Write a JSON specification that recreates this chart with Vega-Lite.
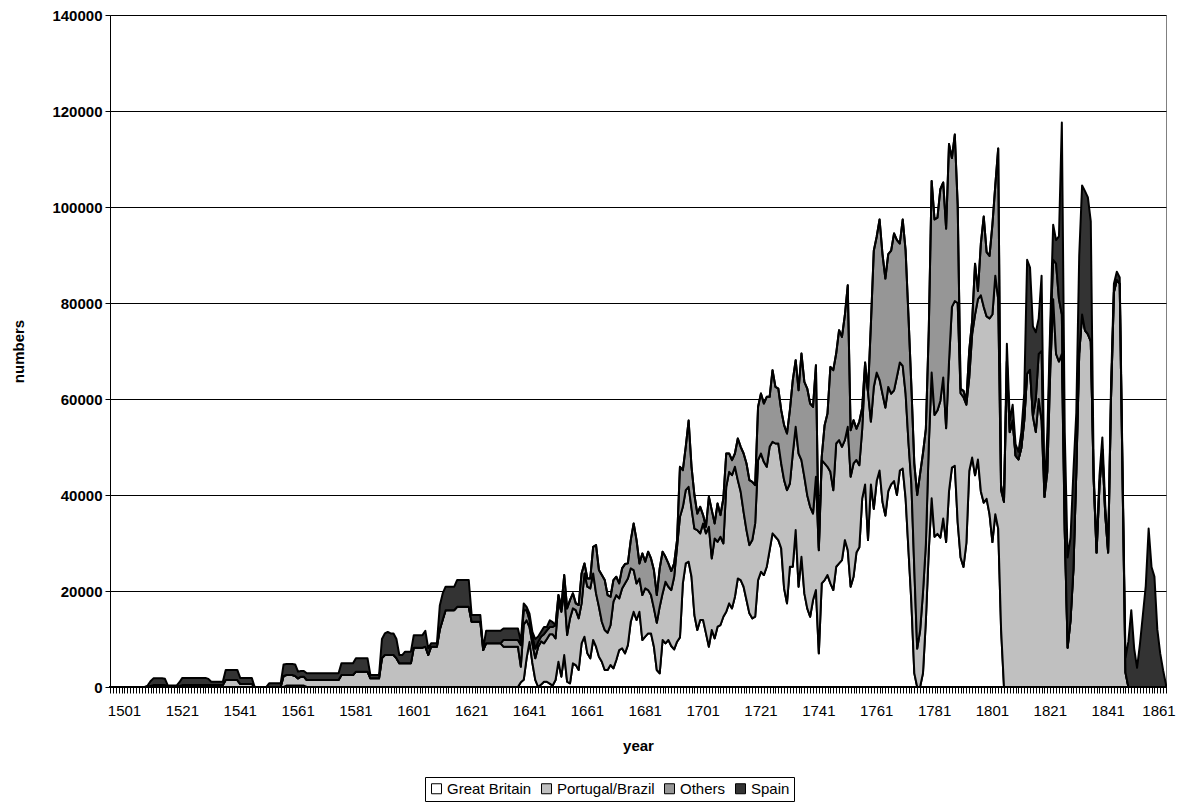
{
"$schema": "https://vega.github.io/schema/vega-lite/v6.json",
"width": 1056, "height": 672,
"autosize": {"type": "none"},
"padding": {"left": 110, "top": 15, "right": 13, "bottom": 119},
"background": "white",
"config": {"view": {"stroke": "#808080", "strokeWidth": 1}, "font": "Liberation Sans"},
"datasets": {"series": [{"key":"GB","name":"Great Britain","rank":1},{"key":"PT","name":"Portugal/Brazil","rank":2},{"key":"OT","name":"Others","rank":3},{"key":"SP","name":"Spain","rank":4}]},
"data": {"values": [
{"year":1501,"GB":0,"PT":0,"OT":0,"SP":0},{"year":1502,"GB":0,"PT":0,"OT":0,"SP":0},{"year":1503,"GB":0,"PT":0,"OT":0,"SP":0},{"year":1504,"GB":0,"PT":0,"OT":0,"SP":0},{"year":1505,"GB":0,"PT":0,"OT":0,"SP":0},{"year":1506,"GB":0,"PT":0,"OT":0,"SP":0},{"year":1507,"GB":0,"PT":0,"OT":0,"SP":0},{"year":1508,"GB":0,"PT":0,"OT":0,"SP":0},{"year":1509,"GB":0,"PT":0,"OT":0,"SP":0},{"year":1510,"GB":0,"PT":0,"OT":0,"SP":0},
{"year":1511,"GB":0,"PT":0,"OT":0,"SP":0},{"year":1512,"GB":0,"PT":0,"OT":0,"SP":0},{"year":1513,"GB":0,"PT":0,"OT":0,"SP":0},{"year":1514,"GB":0,"PT":0,"OT":0,"SP":300},{"year":1515,"GB":0,"PT":200,"OT":0,"SP":1000},{"year":1516,"GB":0,"PT":400,"OT":0,"SP":1400},{"year":1517,"GB":0,"PT":400,"OT":0,"SP":1400},{"year":1518,"GB":0,"PT":400,"OT":0,"SP":1400},{"year":1519,"GB":0,"PT":400,"OT":0,"SP":1400},{"year":1520,"GB":0,"PT":400,"OT":0,"SP":1300},
{"year":1521,"GB":0,"PT":0,"OT":0,"SP":300},{"year":1522,"GB":0,"PT":0,"OT":0,"SP":300},{"year":1523,"GB":0,"PT":0,"OT":0,"SP":300},{"year":1524,"GB":0,"PT":0,"OT":0,"SP":300},{"year":1525,"GB":0,"PT":200,"OT":0,"SP":800},{"year":1526,"GB":0,"PT":400,"OT":0,"SP":1500},{"year":1527,"GB":0,"PT":400,"OT":0,"SP":1500},{"year":1528,"GB":0,"PT":400,"OT":0,"SP":1500},{"year":1529,"GB":0,"PT":400,"OT":0,"SP":1500},{"year":1530,"GB":0,"PT":400,"OT":0,"SP":1500},
{"year":1531,"GB":0,"PT":400,"OT":0,"SP":1500},{"year":1532,"GB":0,"PT":400,"OT":0,"SP":1500},{"year":1533,"GB":0,"PT":400,"OT":0,"SP":1500},{"year":1534,"GB":0,"PT":400,"OT":0,"SP":1500},{"year":1535,"GB":0,"PT":400,"OT":0,"SP":1300},{"year":1536,"GB":0,"PT":400,"OT":0,"SP":700},{"year":1537,"GB":0,"PT":400,"OT":0,"SP":700},{"year":1538,"GB":0,"PT":400,"OT":0,"SP":700},{"year":1539,"GB":0,"PT":400,"OT":0,"SP":700},{"year":1540,"GB":0,"PT":400,"OT":0,"SP":700},
{"year":1541,"GB":0,"PT":1450,"OT":0,"SP":2100},{"year":1542,"GB":0,"PT":1450,"OT":0,"SP":2100},{"year":1543,"GB":0,"PT":1450,"OT":0,"SP":2100},{"year":1544,"GB":0,"PT":1450,"OT":0,"SP":2100},{"year":1545,"GB":0,"PT":1450,"OT":0,"SP":2100},{"year":1546,"GB":0,"PT":650,"OT":0,"SP":1250},{"year":1547,"GB":0,"PT":650,"OT":0,"SP":1250},{"year":1548,"GB":0,"PT":650,"OT":0,"SP":1250},{"year":1549,"GB":0,"PT":650,"OT":0,"SP":1250},{"year":1550,"GB":0,"PT":650,"OT":0,"SP":1250},
{"year":1551,"GB":0,"PT":0,"OT":0,"SP":0},{"year":1552,"GB":0,"PT":0,"OT":0,"SP":0},{"year":1553,"GB":0,"PT":0,"OT":0,"SP":0},{"year":1554,"GB":0,"PT":0,"OT":0,"SP":0},{"year":1555,"GB":0,"PT":0,"OT":0,"SP":0},{"year":1556,"GB":0,"PT":0,"OT":0,"SP":760},{"year":1557,"GB":0,"PT":0,"OT":0,"SP":760},{"year":1558,"GB":0,"PT":0,"OT":0,"SP":760},{"year":1559,"GB":0,"PT":0,"OT":0,"SP":760},{"year":1560,"GB":0,"PT":0,"OT":0,"SP":760},
{"year":1561,"GB":0,"PT":2300,"OT":0,"SP":2400},{"year":1562,"GB":300,"PT":2200,"OT":0,"SP":2300},{"year":1563,"GB":300,"PT":2200,"OT":0,"SP":2300},{"year":1564,"GB":300,"PT":2200,"OT":0,"SP":2300},{"year":1565,"GB":300,"PT":2000,"OT":0,"SP":2400},{"year":1566,"GB":300,"PT":1500,"OT":0,"SP":1400},{"year":1567,"GB":300,"PT":1850,"OT":0,"SP":1200},{"year":1568,"GB":300,"PT":1850,"OT":0,"SP":1200},{"year":1569,"GB":0,"PT":1460,"OT":0,"SP":1400},{"year":1570,"GB":0,"PT":1460,"OT":0,"SP":1400},
{"year":1571,"GB":0,"PT":1460,"OT":0,"SP":1400},{"year":1572,"GB":0,"PT":1460,"OT":0,"SP":1400},{"year":1573,"GB":0,"PT":1460,"OT":0,"SP":1400},{"year":1574,"GB":0,"PT":1460,"OT":0,"SP":1400},{"year":1575,"GB":0,"PT":1460,"OT":0,"SP":1400},{"year":1576,"GB":0,"PT":1460,"OT":0,"SP":1400},{"year":1577,"GB":0,"PT":1460,"OT":0,"SP":1400},{"year":1578,"GB":0,"PT":1460,"OT":0,"SP":1400},{"year":1579,"GB":0,"PT":1460,"OT":0,"SP":1400},{"year":1580,"GB":0,"PT":1460,"OT":0,"SP":1400},
{"year":1581,"GB":0,"PT":2500,"OT":0,"SP":2430},{"year":1582,"GB":0,"PT":2500,"OT":0,"SP":2430},{"year":1583,"GB":0,"PT":2500,"OT":0,"SP":2430},{"year":1584,"GB":0,"PT":2500,"OT":0,"SP":2430},{"year":1585,"GB":0,"PT":2500,"OT":0,"SP":2430},{"year":1586,"GB":0,"PT":3200,"OT":0,"SP":2800},{"year":1587,"GB":0,"PT":3200,"OT":0,"SP":2800},{"year":1588,"GB":0,"PT":3200,"OT":0,"SP":2800},{"year":1589,"GB":0,"PT":3200,"OT":0,"SP":2800},{"year":1590,"GB":0,"PT":3200,"OT":0,"SP":2800},
{"year":1591,"GB":0,"PT":1800,"OT":0,"SP":700},{"year":1592,"GB":0,"PT":1800,"OT":0,"SP":700},{"year":1593,"GB":0,"PT":1800,"OT":0,"SP":700},{"year":1594,"GB":0,"PT":1800,"OT":0,"SP":700},{"year":1595,"GB":0,"PT":6000,"OT":0,"SP":4000},{"year":1596,"GB":0,"PT":6660,"OT":0,"SP":4500},{"year":1597,"GB":0,"PT":6660,"OT":0,"SP":4800},{"year":1598,"GB":0,"PT":6660,"OT":0,"SP":4500},{"year":1599,"GB":0,"PT":6660,"OT":0,"SP":4500},{"year":1600,"GB":0,"PT":6000,"OT":0,"SP":4000},
{"year":1601,"GB":0,"PT":4930,"OT":0,"SP":1730},{"year":1602,"GB":0,"PT":4930,"OT":0,"SP":1730},{"year":1603,"GB":0,"PT":4930,"OT":0,"SP":2430},{"year":1604,"GB":0,"PT":4930,"OT":0,"SP":2430},{"year":1605,"GB":0,"PT":4930,"OT":0,"SP":2430},{"year":1606,"GB":0,"PT":8200,"OT":0,"SP":2600},{"year":1607,"GB":0,"PT":8200,"OT":0,"SP":2600},{"year":1608,"GB":0,"PT":8200,"OT":0,"SP":2600},{"year":1609,"GB":0,"PT":8200,"OT":0,"SP":2600},{"year":1610,"GB":0,"PT":8400,"OT":0,"SP":3300},
{"year":1611,"GB":0,"PT":6660,"OT":0,"SP":1400},{"year":1612,"GB":0,"PT":8400,"OT":0,"SP":700},{"year":1613,"GB":0,"PT":8400,"OT":0,"SP":700},{"year":1614,"GB":0,"PT":8400,"OT":0,"SP":700},{"year":1615,"GB":0,"PT":12000,"OT":0,"SP":5000},{"year":1616,"GB":0,"PT":14000,"OT":0,"SP":5500},{"year":1617,"GB":0,"PT":16000,"OT":0,"SP":4900},{"year":1618,"GB":0,"PT":16000,"OT":0,"SP":4900},{"year":1619,"GB":0,"PT":16000,"OT":0,"SP":4900},{"year":1620,"GB":0,"PT":16000,"OT":0,"SP":4900},
{"year":1621,"GB":0,"PT":16700,"OT":0,"SP":5600},{"year":1622,"GB":0,"PT":16700,"OT":0,"SP":5600},{"year":1623,"GB":0,"PT":16700,"OT":0,"SP":5600},{"year":1624,"GB":0,"PT":16700,"OT":0,"SP":5600},{"year":1625,"GB":0,"PT":16700,"OT":0,"SP":5600},{"year":1626,"GB":0,"PT":13600,"OT":0,"SP":1400},{"year":1627,"GB":0,"PT":13600,"OT":0,"SP":1400},{"year":1628,"GB":0,"PT":13600,"OT":0,"SP":1400},{"year":1629,"GB":0,"PT":13600,"OT":0,"SP":1400},{"year":1630,"GB":0,"PT":7700,"OT":0,"SP":350},
{"year":1631,"GB":0,"PT":9100,"OT":0,"SP":2600},{"year":1632,"GB":0,"PT":9100,"OT":0,"SP":2600},{"year":1633,"GB":0,"PT":9100,"OT":0,"SP":2600},{"year":1634,"GB":0,"PT":9100,"OT":0,"SP":2600},{"year":1635,"GB":0,"PT":9100,"OT":0,"SP":2600},{"year":1636,"GB":0,"PT":9100,"OT":0,"SP":2600},{"year":1637,"GB":0,"PT":8400,"OT":1400,"SP":2400},{"year":1638,"GB":0,"PT":8400,"OT":1400,"SP":2400},{"year":1639,"GB":0,"PT":8400,"OT":1400,"SP":2400},{"year":1640,"GB":0,"PT":8400,"OT":1400,"SP":2400},
{"year":1641,"GB":0,"PT":8400,"OT":1400,"SP":2400},{"year":1642,"GB":0,"PT":8400,"OT":1400,"SP":2400},{"year":1643,"GB":1000,"PT":3230,"OT":4500,"SP":700},{"year":1644,"GB":1500,"PT":11500,"OT":3000,"SP":1400},{"year":1645,"GB":6000,"PT":7900,"OT":2100,"SP":700},{"year":1646,"GB":9400,"PT":3100,"OT":1500,"SP":1300},{"year":1647,"GB":5000,"PT":4000,"OT":1500,"SP":1000},{"year":1648,"GB":1500,"PT":4500,"OT":2000,"SP":2000},{"year":1649,"GB":0,"PT":8400,"OT":1000,"SP":1100},{"year":1650,"GB":500,"PT":9000,"OT":1000,"SP":1000},
{"year":1651,"GB":1100,"PT":8000,"OT":1900,"SP":1500},{"year":1652,"GB":1100,"PT":8900,"OT":1800,"SP":700},{"year":1653,"GB":700,"PT":10300,"OT":1500,"SP":1400},{"year":1654,"GB":300,"PT":10700,"OT":1500,"SP":1000},{"year":1655,"GB":1460,"PT":8670,"OT":2770,"SP":0},{"year":1656,"GB":5270,"PT":12500,"OT":1380,"SP":0},{"year":1657,"GB":2150,"PT":13530,"OT":1050,"SP":0},{"year":1658,"GB":6660,"PT":13190,"OT":3470,"SP":0},{"year":1659,"GB":1110,"PT":9720,"OT":5550,"SP":0},{"year":1660,"GB":760,"PT":13540,"OT":3810,"SP":0},
{"year":1661,"GB":4930,"PT":11450,"OT":3120,"SP":0},{"year":1662,"GB":4580,"PT":11450,"OT":1390,"SP":0},{"year":1663,"GB":3540,"PT":10760,"OT":2770,"SP":0},{"year":1664,"GB":9100,"PT":8320,"OT":6240,"SP":0},{"year":1665,"GB":10480,"PT":13180,"OT":2090,"SP":0},{"year":1666,"GB":7010,"PT":13880,"OT":1730,"SP":0},{"year":1667,"GB":5970,"PT":14570,"OT":2080,"SP":0},{"year":1668,"GB":9790,"PT":13870,"OT":5540,"SP":0},{"year":1669,"GB":8400,"PT":11100,"OT":10060,"SP":0},{"year":1670,"GB":6320,"PT":10410,"OT":7630,"SP":0},
{"year":1671,"GB":5270,"PT":8330,"OT":9720,"SP":0},{"year":1672,"GB":3540,"PT":8330,"OT":10410,"SP":0},{"year":1673,"GB":3540,"PT":7770,"OT":7840,"SP":0},{"year":1674,"GB":4580,"PT":8330,"OT":5890,"SP":0},{"year":1675,"GB":3890,"PT":13880,"OT":4510,"SP":0},{"year":1676,"GB":5620,"PT":13530,"OT":3820,"SP":0},{"year":1677,"GB":7700,"PT":10760,"OT":3120,"SP":0},{"year":1678,"GB":8050,"PT":12490,"OT":4170,"SP":0},{"year":1679,"GB":7010,"PT":14570,"OT":4030,"SP":0},{"year":1680,"GB":8740,"PT":13880,"OT":3130,"SP":0},
{"year":1681,"GB":13600,"PT":11110,"OT":5890,"SP":0},{"year":1682,"GB":15680,"PT":8680,"OT":9720,"SP":0},{"year":1683,"GB":13950,"PT":7630,"OT":9020,"SP":0},{"year":1684,"GB":15680,"PT":6940,"OT":3130,"SP":0},{"year":1685,"GB":9790,"PT":9360,"OT":8680,"SP":0},{"year":1686,"GB":10480,"PT":10060,"OT":5550,"SP":0},{"year":1687,"GB":11170,"PT":9020,"OT":7990,"SP":0},{"year":1688,"GB":11170,"PT":7980,"OT":7640,"SP":0},{"year":1689,"GB":8400,"PT":7980,"OT":7980,"SP":0},{"year":1690,"GB":3540,"PT":9850,"OT":5760,"SP":0},
{"year":1691,"GB":2850,"PT":13880,"OT":7980,"SP":0},{"year":1692,"GB":9790,"PT":9710,"OT":8680,"SP":0},{"year":1693,"GB":9100,"PT":12830,"OT":5200,"SP":0},{"year":1694,"GB":9790,"PT":11100,"OT":4860,"SP":0},{"year":1695,"GB":8540,"PT":11650,"OT":3960,"SP":0},{"year":1696,"GB":7840,"PT":15130,"OT":2780,"SP":0},{"year":1697,"GB":9440,"PT":19760,"OT":1400,"SP":0},{"year":1698,"GB":10340,"PT":25120,"OT":10410,"SP":0},{"year":1699,"GB":21580,"PT":15960,"OT":7640,"SP":0},{"year":1700,"GB":25750,"PT":15260,"OT":9030,"SP":0},
{"year":1701,"GB":26100,"PT":15600,"OT":13800,"SP":0},{"year":1702,"GB":22970,"PT":14230,"OT":8670,"SP":0},{"year":1703,"GB":15000,"PT":18000,"OT":7000,"SP":0},{"year":1704,"GB":11870,"PT":20820,"OT":3460,"SP":0},{"year":1705,"GB":13950,"PT":18050,"OT":5540,"SP":0},{"year":1706,"GB":13950,"PT":20130,"OT":1730,"SP":0},{"year":1707,"GB":11170,"PT":20830,"OT":1380,"SP":0},{"year":1708,"GB":8400,"PT":24980,"OT":6250,"SP":0},{"year":1709,"GB":11870,"PT":14920,"OT":10060,"SP":0},{"year":1710,"GB":10130,"PT":20820,"OT":3130,"SP":0},
{"year":1711,"GB":12560,"PT":17700,"OT":7980,"SP":0},{"year":1712,"GB":12910,"PT":18390,"OT":4510,"SP":0},{"year":1713,"GB":14640,"PT":15270,"OT":9370,"SP":0},{"year":1714,"GB":15680,"PT":26030,"OT":6940,"SP":0},{"year":1715,"GB":17420,"PT":27410,"OT":3820,"SP":0},{"year":1716,"GB":16380,"PT":27760,"OT":3120,"SP":0},{"year":1717,"GB":18800,"PT":27070,"OT":2780,"SP":0},{"year":1718,"GB":22620,"PT":20480,"OT":8670,"SP":0},{"year":1719,"GB":22280,"PT":18390,"OT":9370,"SP":0},{"year":1720,"GB":20890,"PT":15610,"OT":12150,"SP":0},
{"year":1721,"GB":18110,"PT":14580,"OT":13880,"SP":0},{"year":1722,"GB":15340,"PT":14220,"OT":13540,"SP":0},{"year":1723,"GB":14300,"PT":16300,"OT":12150,"SP":0},{"year":1724,"GB":14640,"PT":19440,"OT":7980,"SP":0},{"year":1725,"GB":22280,"PT":24980,"OT":11100,"SP":0},{"year":1726,"GB":24010,"PT":24640,"OT":12490,"SP":0},{"year":1727,"GB":23320,"PT":23590,"OT":12150,"SP":0},{"year":1728,"GB":25050,"PT":20820,"OT":14580,"SP":0},{"year":1729,"GB":28520,"PT":21520,"OT":10410,"SP":0},{"year":1730,"GB":32000,"PT":19080,"OT":14920,"SP":0},
{"year":1731,"GB":31300,"PT":19430,"OT":11800,"SP":0},{"year":1732,"GB":30600,"PT":20130,"OT":11450,"SP":0},{"year":1733,"GB":28870,"PT":17700,"OT":11100,"SP":0},{"year":1734,"GB":20540,"PT":22560,"OT":11450,"SP":0},{"year":1735,"GB":17420,"PT":23590,"OT":11800,"SP":0},{"year":1736,"GB":25050,"PT":17350,"OT":15270,"SP":0},{"year":1737,"GB":25050,"PT":23600,"OT":15270,"SP":0},{"year":1738,"GB":32690,"PT":21510,"OT":13880,"SP":0},{"year":1739,"GB":20890,"PT":27760,"OT":13190,"SP":0},{"year":1740,"GB":27130,"PT":20130,"OT":22210,"SP":0},
{"year":1741,"GB":19500,"PT":24290,"OT":19780,"SP":0},{"year":1742,"GB":16380,"PT":23590,"OT":22210,"SP":0},{"year":1743,"GB":14640,"PT":22900,"OT":21520,"SP":0},{"year":1744,"GB":18110,"PT":18040,"OT":22210,"SP":0},{"year":1745,"GB":20200,"PT":23590,"OT":23250,"SP":0},{"year":1746,"GB":7010,"PT":21490,"OT":500,"SP":0},{"year":1747,"GB":21580,"PT":25680,"OT":690,"SP":0},{"year":1748,"GB":22280,"PT":24290,"OT":7980,"SP":0},{"year":1749,"GB":23320,"PT":22550,"OT":11110,"SP":0},{"year":1750,"GB":21580,"PT":23250,"OT":21860,"SP":0},
{"year":1751,"GB":20200,"PT":20810,"OT":24990,"SP":0},{"year":1752,"GB":25050,"PT":25680,"OT":18740,"SP":0},{"year":1753,"GB":25750,"PT":25680,"OT":22900,"SP":0},{"year":1754,"GB":26440,"PT":23600,"OT":22900,"SP":0},{"year":1755,"GB":30600,"PT":20830,"OT":26020,"SP":0},{"year":1756,"GB":28520,"PT":25680,"OT":29500,"SP":0},{"year":1757,"GB":20890,"PT":22900,"OT":9710,"SP":0},{"year":1758,"GB":22970,"PT":23600,"OT":9020,"SP":0},{"year":1759,"GB":28000,"PT":19300,"OT":6500,"SP":0},{"year":1760,"GB":29100,"PT":17100,"OT":9100,"SP":0},
{"year":1761,"GB":39300,"PT":14500,"OT":4400,"SP":0},{"year":1762,"GB":42200,"PT":24000,"OT":1400,"SP":0},{"year":1763,"GB":30600,"PT":30900,"OT":0,"SP":0},{"year":1764,"GB":42200,"PT":13100,"OT":20300,"SP":0},{"year":1765,"GB":37100,"PT":25400,"OT":28400,"SP":0},{"year":1766,"GB":42900,"PT":22600,"OT":28300,"SP":0},{"year":1767,"GB":45100,"PT":18900,"OT":33400,"SP":0},{"year":1768,"GB":38600,"PT":22500,"OT":29100,"SP":0},{"year":1769,"GB":35700,"PT":22500,"OT":26900,"SP":0},{"year":1770,"GB":40800,"PT":21700,"OT":27700,"SP":0},
{"year":1771,"GB":42200,"PT":18900,"OT":29800,"SP":0},{"year":1772,"GB":42900,"PT":18900,"OT":32700,"SP":0},{"year":1773,"GB":40000,"PT":24700,"OT":28400,"SP":0},{"year":1774,"GB":45100,"PT":22500,"OT":24800,"SP":0},{"year":1775,"GB":45500,"PT":21400,"OT":30500,"SP":0},{"year":1776,"GB":39300,"PT":21800,"OT":29800,"SP":0},{"year":1777,"GB":28400,"PT":22500,"OT":26200,"SP":0},{"year":1778,"GB":17500,"PT":24700,"OT":20300,"SP":0},{"year":1779,"GB":2900,"PT":21800,"OT":21900,"SP":0},{"year":1780,"GB":0,"PT":8000,"OT":32000,"SP":0},
{"year":1781,"GB":0,"PT":11700,"OT":32700,"SP":0},{"year":1782,"GB":2900,"PT":16800,"OT":29000,"SP":0},{"year":1783,"GB":13800,"PT":16000,"OT":24000,"SP":0},{"year":1784,"GB":28400,"PT":21800,"OT":24000,"SP":0},{"year":1785,"GB":39300,"PT":26200,"OT":39900,"SP":0},{"year":1786,"GB":31300,"PT":25400,"OT":40700,"SP":0},{"year":1787,"GB":31900,"PT":25700,"OT":40200,"SP":0},{"year":1788,"GB":31100,"PT":28500,"OT":44100,"SP":0},{"year":1789,"GB":35100,"PT":29400,"OT":40600,"SP":0},{"year":1790,"GB":30200,"PT":23700,"OT":41600,"SP":0},
{"year":1791,"GB":40800,"PT":27000,"OT":45300,"SP":0},{"year":1792,"GB":45700,"PT":33500,"OT":31000,"SP":0},{"year":1793,"GB":46100,"PT":34300,"OT":34700,"SP":0},{"year":1794,"GB":34300,"PT":45700,"OT":20400,"SP":0},{"year":1795,"GB":27000,"PT":34200,"OT":900,"SP":0},{"year":1796,"GB":25000,"PT":35400,"OT":1300,"SP":0},{"year":1797,"GB":30000,"PT":28800,"OT":800,"SP":0},{"year":1798,"GB":45000,"PT":19500,"OT":5700,"SP":0},{"year":1799,"GB":47800,"PT":25700,"OT":2800,"SP":0},{"year":1800,"GB":44100,"PT":33500,"OT":10600,"SP":0},
{"year":1801,"GB":47400,"PT":33400,"OT":1700,"SP":0},{"year":1802,"GB":40800,"PT":40800,"OT":10700,"SP":0},{"year":1803,"GB":38400,"PT":40800,"OT":18800,"SP":0},{"year":1804,"GB":39200,"PT":38000,"OT":13400,"SP":0},{"year":1805,"GB":36000,"PT":40800,"OT":13000,"SP":0},{"year":1806,"GB":30200,"PT":47400,"OT":18700,"SP":0},{"year":1807,"GB":36000,"PT":49700,"OT":18800,"SP":0},{"year":1808,"GB":33000,"PT":47800,"OT":31400,"SP":0},{"year":1809,"GB":12000,"PT":29000,"OT":1000,"SP":0},{"year":1810,"GB":0,"PT":38600,"OT":0,"SP":400},
{"year":1811,"GB":0,"PT":67800,"OT":0,"SP":3700},{"year":1812,"GB":0,"PT":53100,"OT":0,"SP":2400},{"year":1813,"GB":0,"PT":55500,"OT":0,"SP":3300},{"year":1814,"GB":0,"PT":48200,"OT":0,"SP":2400},{"year":1815,"GB":0,"PT":47400,"OT":0,"SP":1600},{"year":1816,"GB":0,"PT":49800,"OT":0,"SP":3300},{"year":1817,"GB":0,"PT":55500,"OT":0,"SP":5700},{"year":1818,"GB":0,"PT":65300,"OT":0,"SP":23700},{"year":1819,"GB":0,"PT":66100,"OT":0,"SP":21300},{"year":1820,"GB":0,"PT":56400,"OT":0,"SP":18700},
{"year":1821,"GB":0,"PT":53100,"OT":6900,"SP":13900},{"year":1822,"GB":0,"PT":60000,"OT":9400,"SP":7400},{"year":1823,"GB":0,"PT":55500,"OT":14500,"SP":15700},{"year":1824,"GB":0,"PT":39600,"OT":0,"SP":400},{"year":1825,"GB":0,"PT":44900,"OT":4100,"SP":4100},{"year":1826,"GB":0,"PT":66100,"OT":7400,"SP":2400},{"year":1827,"GB":0,"PT":80800,"OT":8200,"SP":7300},{"year":1828,"GB":0,"PT":69400,"OT":18800,"SP":4900},{"year":1829,"GB":0,"PT":67800,"OT":13000,"SP":13100},{"year":1830,"GB":0,"PT":69400,"OT":8200,"SP":40000},
{"year":1831,"GB":0,"PT":32700,"OT":0,"SP":20400},{"year":1832,"GB":0,"PT":8200,"OT":0,"SP":18800},{"year":1833,"GB":0,"PT":13900,"OT":0,"SP":17200},{"year":1834,"GB":0,"PT":24500,"OT":0,"SP":20400},{"year":1835,"GB":0,"PT":44900,"OT":0,"SP":12300},{"year":1836,"GB":0,"PT":69400,"OT":0,"SP":20400},{"year":1837,"GB":0,"PT":77600,"OT":0,"SP":26900},{"year":1838,"GB":0,"PT":74300,"OT":0,"SP":29000},{"year":1839,"GB":0,"PT":73500,"OT":0,"SP":28500},{"year":1840,"GB":0,"PT":72000,"OT":0,"SP":25000},
{"year":1841,"GB":0,"PT":43300,"OT":0,"SP":1700},{"year":1842,"GB":0,"PT":28000,"OT":0,"SP":1000},{"year":1843,"GB":0,"PT":42000,"OT":0,"SP":2000},{"year":1844,"GB":0,"PT":49500,"OT":0,"SP":2500},{"year":1845,"GB":0,"PT":36000,"OT":0,"SP":2000},{"year":1846,"GB":0,"PT":28000,"OT":0,"SP":1000},{"year":1847,"GB":0,"PT":60300,"OT":0,"SP":2500},{"year":1848,"GB":0,"PT":82300,"OT":0,"SP":1700},{"year":1849,"GB":0,"PT":84800,"OT":0,"SP":1700},{"year":1850,"GB":0,"PT":84000,"OT":0,"SP":1300},
{"year":1851,"GB":0,"PT":43000,"OT":0,"SP":2000},{"year":1852,"GB":0,"PT":3000,"OT":0,"SP":3000},{"year":1853,"GB":0,"PT":0,"OT":0,"SP":9500},{"year":1854,"GB":0,"PT":0,"OT":0,"SP":16000},{"year":1855,"GB":0,"PT":0,"OT":0,"SP":8000},{"year":1856,"GB":0,"PT":0,"OT":0,"SP":4000},{"year":1857,"GB":0,"PT":0,"OT":0,"SP":9000},{"year":1858,"GB":0,"PT":0,"OT":0,"SP":15000},{"year":1859,"GB":0,"PT":0,"OT":0,"SP":21000},{"year":1860,"GB":0,"PT":0,"OT":0,"SP":33000},
{"year":1861,"GB":0,"PT":0,"OT":0,"SP":25000},{"year":1862,"GB":0,"PT":0,"OT":0,"SP":23000},{"year":1863,"GB":0,"PT":0,"OT":0,"SP":12000},{"year":1864,"GB":0,"PT":0,"OT":0,"SP":7000},{"year":1865,"GB":0,"PT":0,"OT":0,"SP":3500},{"year":1866,"GB":0,"PT":0,"OT":0,"SP":500}
]},
"transform": [
{"fold": ["GB", "PT", "OT", "SP"], "as": ["key", "value"]},
{"lookup": "key", "from": {"data": {"name": "series"}, "key": "key", "fields": ["name", "rank"]}}
],
"mark": {"type": "area", "stroke": "black", "strokeWidth": 2, "strokeJoin": "round", "interpolate": "linear"},
"encoding": {
"x": {"field": "year", "type": "quantitative", "scale": {"domain": [1501, 1866], "nice": false, "zero": false},
 "axis": {"title": "year", "titleFontWeight": "bold", "titleFontSize": 15, "titleColor": "black", "titlePadding": 20,
  "tickCount": 366, "format": "d", "labelExpr": "(datum.value - 1501) % 20 == 0 ? datum.label : ''",
  "labelOverlap": false, "labelFlush": false, "labelBound": false, "labelFontSize": 15, "labelColor": "black", "labelPadding": 10,
  "labelOffset": {"condition": {"test": "datum.value == 1861", "value": 7}, "value": 14},
  "tickSize": 6, "tickColor": "black", "domainColor": "black", "grid": false}},
"y": {"field": "value", "type": "quantitative", "stack": "zero", "scale": {"domain": [0, 140000], "nice": false},
 "axis": {"title": "numbers", "titleFontWeight": "bold", "titleFontSize": 15, "titleColor": "black", "titlePadding": 25,
  "values": [0, 20000, 40000, 60000, 80000, 100000, 120000, 140000], "format": "d",
  "labelFontSize": 15, "labelFontWeight": "bold", "labelColor": "black", "labelPadding": 3,
  "tickSize": 5, "tickColor": "black", "domainColor": "black", "grid": true, "gridColor": "#000000", "gridWidth": 1}},
"color": {"field": "name", "type": "nominal",
 "scale": {"domain": ["Great Britain", "Portugal/Brazil", "Others", "Spain"], "range": ["#FFFFFF", "#C0C0C0", "#969696", "#333333"]},
 "legend": {"title": null, "orient": "none", "legendX": 315, "legendY": 762, "direction": "horizontal",
  "strokeColor": "black", "padding": 4, "symbolType": "square", "symbolSize": 100, "symbolStrokeColor": "black", "symbolStrokeWidth": 1,
  "labelFontSize": 15, "labelColor": "black", "labelOffset": 3, "columnPadding": 7}},
"order": {"field": "rank", "type": "quantitative", "sort": "ascending"}
}
}
